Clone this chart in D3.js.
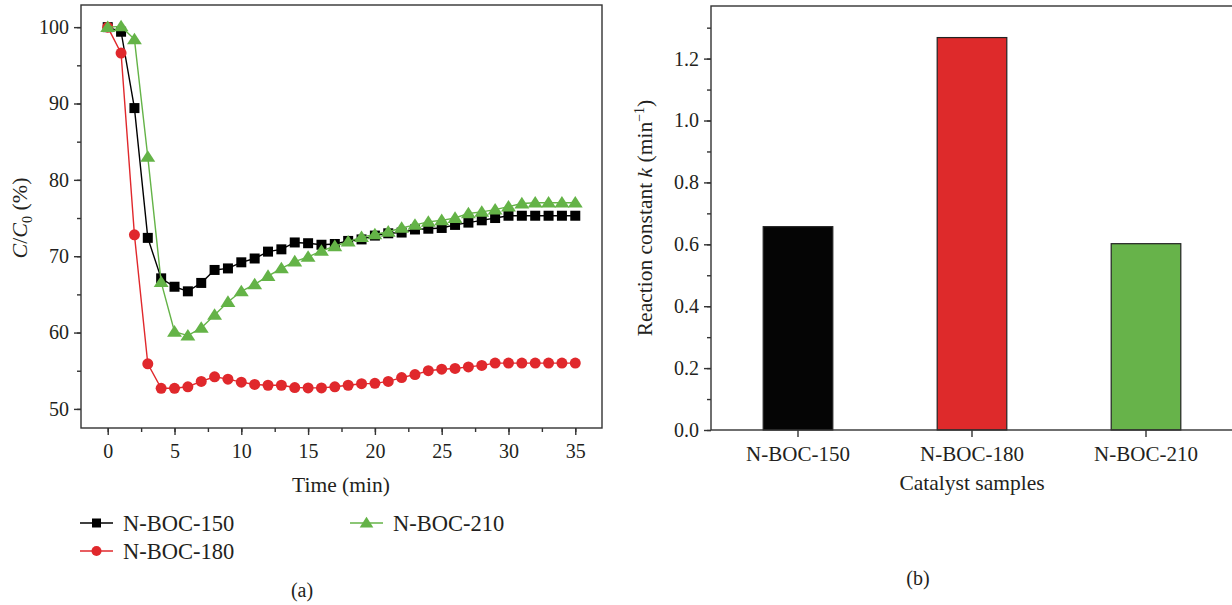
<!DOCTYPE html>
<html>
<head>
<meta charset="utf-8">
<script src="https://cdn.jsdelivr.net/npm/d3@7"></script>
<style>
body { margin: 0; background: #fff; }
svg { display: block; }
text { font-family: "Liberation Serif", "DejaVu Serif", serif; fill: #231f20; }
.axis path, .axis line { stroke: #333; stroke-width: 1.4px; }
.frame { fill: none; stroke: #333; stroke-width: 1.4px; }
</style>
</head>
<body>
<script>
// panel (a): degradation curves, C/C0 (%) against time (min)
var times = d3.range(0, 36);
var boc150 = [100, 99.4, 89.4, 72.4, 67.1, 66.0, 65.4, 66.5, 68.2, 68.4, 69.2, 69.7, 70.6, 70.9, 71.8, 71.7,
	71.5, 71.6, 72.0, 72.2, 72.7, 73.0, 73.1, 73.5, 73.6, 73.7, 74.1, 74.4, 74.7, 75.0, 75.3, 75.3, 75.3, 75.3, 75.3, 75.3];
var boc180 = [100, 96.6, 72.8, 55.9, 52.7, 52.7, 52.9, 53.6, 54.2, 53.9, 53.5, 53.2, 53.1, 53.1, 52.8, 52.75,
	52.75, 52.9, 53.1, 53.3, 53.35, 53.6, 54.1, 54.5, 55.0, 55.2, 55.3, 55.5, 55.7, 56.0, 56.0, 56.0, 56.0, 56.0, 56.0, 56.0];
var boc210 = [100, 100.1, 98.4, 83.0, 66.6, 60.1, 59.6, 60.6, 62.3, 64.0, 65.4, 66.3, 67.4, 68.4, 69.3, 69.9,
	70.7, 71.3, 71.9, 72.5, 72.85, 73.2, 73.7, 74.1, 74.5, 74.7, 75.0, 75.6, 75.8, 76.1, 76.5, 76.9, 77.0, 77.0, 77.0, 77.0];
var seriesNames = ['N-BOC-150', 'N-BOC-180', 'N-BOC-210'];
var timeTicks = [0, 5, 10, 15, 20, 25, 30, 35];
var ratioTicks = [50, 60, 70, 80, 90, 100];

// panel (b): reaction constants
var catalysts = ['N-BOC-150', 'N-BOC-180', 'N-BOC-210'];
var rateK = [0.657, 1.268, 0.602];
var rateTicks = [0, 0.2, 0.4, 0.6, 0.8, 1.0, 1.2];

var colors = ['#000000', '#e0282c', '#64b347'];
var barColors = ['#050505', '#de2a2b', '#67b34a'];
var markers = ['square', 'circle', 'triangle'];

var FONT = '"Liberation Serif", "DejaVu Serif", serif';
var W = 1232, H = 605;
var svg = d3.select('body').append('svg').attr('width', W).attr('height', H);

function drawMarker(g, kind, color, s) {
	if (kind == 'square') {
		g.append('rect').attr('x', -s / 2).attr('y', -s / 2).attr('width', s).attr('height', s).attr('fill', color);
	} else if (kind == 'circle') {
		g.append('circle').attr('r', s / 2 + 0.5).attr('fill', color);
	} else {
		var h = s * 0.9;
		g.append('path').attr('d', 'M0,' + (-h * 0.62) + 'L' + (s * 0.62) + ',' + (h * 0.45) + 'L' + (-s * 0.62) + ',' + (h * 0.45) + 'Z')
			.attr('fill', color);
	}
}

function styleAxis(ax, size) {
	ax.attr('font-family', FONT);
	ax.select('.domain').remove();
	ax.selectAll('text').attr('font-size', size).attr('font-family', FONT);
}

// ---------- panel (a)
var xA = d3.scaleLinear().domain([-2, 37]).range([81, 602]);
var yA = d3.scaleLinear().domain([47.5, 102.9]).range([428, 5]);

styleAxis(svg.append('g').attr('class', 'axis').attr('transform', 'translate(0,428)')
	.call(d3.axisBottom(xA).tickValues(d3.range(0, 36, 2.5)).tickSize(4).tickFormat('')), 19);
styleAxis(svg.append('g').attr('class', 'axis').attr('transform', 'translate(0,428)')
	.call(d3.axisBottom(xA).tickValues(timeTicks).tickSize(7).tickPadding(9).tickSizeOuter(0)), 20);

styleAxis(svg.append('g').attr('class', 'axis').attr('transform', 'translate(81,0)')
	.call(d3.axisLeft(yA).tickValues(d3.range(50, 101, 5)).tickSize(4).tickFormat('')), 19);
styleAxis(svg.append('g').attr('class', 'axis').attr('transform', 'translate(81,0)')
	.call(d3.axisLeft(yA).tickValues(ratioTicks).tickSize(7).tickPadding(5)), 20);

svg.append('rect').attr('class', 'frame').attr('x', 81).attr('y', 5).attr('width', 602 - 81).attr('height', 428 - 5);

var allSeries = [boc150, boc180, boc210];
var line = d3.line().x(function(d, i) { return xA(times[i]); }).y(function(d) { return yA(d); });
allSeries.forEach(function(vals, si) {
	svg.append('path').datum(vals).attr('d', line).attr('fill', 'none')
		.attr('stroke', colors[si]).attr('stroke-width', 1.4);
	var pts = svg.selectAll('.pt' + si).data(vals).enter().append('g').attr('class', 'pt' + si)
		.attr('transform', function(d, i) { return 'translate(' + xA(times[i]) + ',' + yA(d) + ')'; });
	pts.each(function() { drawMarker(d3.select(this), markers[si], colors[si], si == 2 ? 12 : 10); });
});

svg.append('text').attr('x', 341).attr('y', 492).attr('text-anchor', 'middle').attr('font-size', 21.5).text('Time (min)');

var ylab = svg.append('text').attr('transform', 'translate(27,218) rotate(-90)').attr('text-anchor', 'middle').attr('font-size', 22);
ylab.append('tspan').attr('font-style', 'italic').text('C');
ylab.append('tspan').text('/');
ylab.append('tspan').attr('font-style', 'italic').text('C');
ylab.append('tspan').attr('font-size', 14).attr('dy', 5).text('0');
ylab.append('tspan').attr('dy', -5).text(' (%)');

// legend
var legendPos = [[80, 523], [80, 551], [350, 523]];
seriesNames.forEach(function(name, i) {
	var g = svg.append('g').attr('transform', 'translate(' + legendPos[i][0] + ',' + legendPos[i][1] + ')');
	g.append('line').attr('x1', 0).attr('x2', 33).attr('stroke', colors[i]).attr('stroke-width', 1.4);
	drawMarker(g.append('g').attr('transform', 'translate(16.5,0)'), markers[i], colors[i], i == 2 ? 11 : 9);
	g.append('text').attr('x', 43).attr('y', 7.5).attr('font-size', 22.5).text(name);
});

svg.append('text').attr('x', 302).attr('y', 597).attr('text-anchor', 'middle').attr('font-size', 20).text('(a)');

// ---------- panel (b)
var xB = d3.scaleBand().domain(catalysts).range([711, 1233]).paddingInner(0.6).paddingOuter(0.3);
var yB = d3.scaleLinear().domain([0, 1.37]).range([430, 6]);

svg.selectAll('.bar').data(rateK).enter().append('rect').attr('class', 'bar')
	.attr('x', function(d, i) { return xB(catalysts[i]); })
	.attr('y', function(d) { return yB(d); })
	.attr('width', xB.bandwidth())
	.attr('height', function(d) { return 430 - yB(d); })
	.attr('fill', function(d, i) { return barColors[i]; })
	.attr('stroke', '#222').attr('stroke-width', 1.2);

styleAxis(svg.append('g').attr('class', 'axis').attr('transform', 'translate(711,0)')
	.call(d3.axisLeft(yB).tickValues(d3.range(0, 1.35, 0.1)).tickSize(4).tickFormat('')), 19);
styleAxis(svg.append('g').attr('class', 'axis').attr('transform', 'translate(711,0)')
	.call(d3.axisLeft(yB).tickValues(rateTicks).tickSize(7).tickPadding(5).tickFormat(d3.format('.1f'))), 20);

styleAxis(svg.append('g').attr('class', 'axis').attr('transform', 'translate(0,430)')
	.call(d3.axisBottom(xB).tickSize(7).tickPadding(9).tickSizeOuter(0)), 21);

svg.append('rect').attr('class', 'frame').attr('x', 711).attr('y', 6).attr('width', 1233 - 711).attr('height', 430 - 6);

svg.append('text').attr('x', 972).attr('y', 490).attr('text-anchor', 'middle').attr('font-size', 21.5).text('Catalyst samples');

var ylabB = svg.append('text').attr('transform', 'translate(652,218) rotate(-90)').attr('text-anchor', 'middle').attr('font-size', 21.5);
ylabB.append('tspan').text('Reaction constant ');
ylabB.append('tspan').attr('font-style', 'italic').text('k');
ylabB.append('tspan').text(' (min');
ylabB.append('tspan').attr('font-size', 14).attr('dy', -8).text('\u22121');
ylabB.append('tspan').attr('dy', 8).text(')');

svg.append('text').attr('x', 918).attr('y', 585).attr('text-anchor', 'middle').attr('font-size', 20).text('(b)');
</script>
</body>
</html>
